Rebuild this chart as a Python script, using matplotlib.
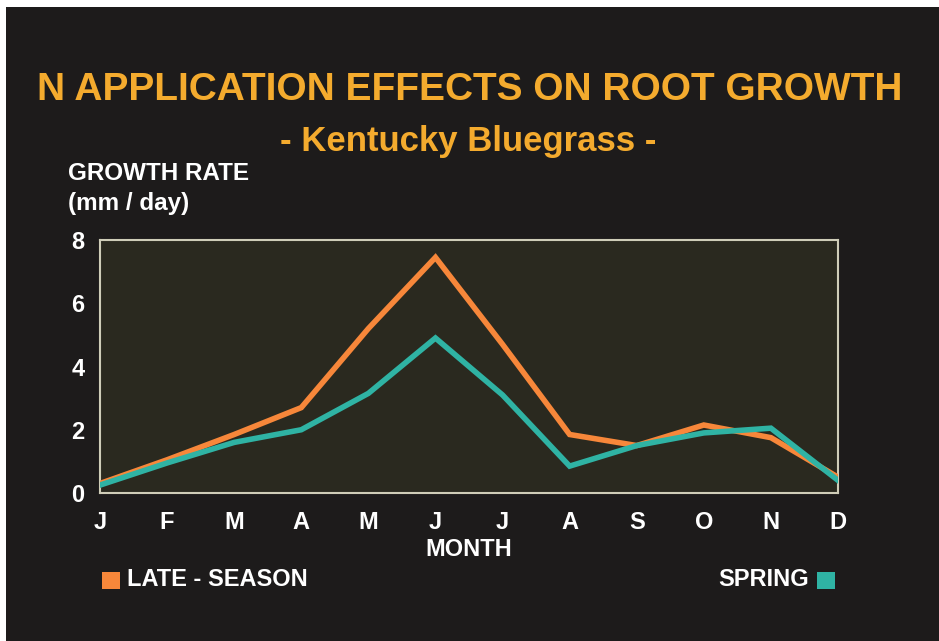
import matplotlib.pyplot as plt
from matplotlib.patches import Rectangle

months = ["J", "F", "M", "A", "M", "J", "J", "A", "S", "O", "N", "D"]
late_season = [0.3, 1.05, 1.85, 2.7, 5.2, 7.45, 4.7, 1.85, 1.5, 2.15, 1.75, 0.5]
spring = [0.25, 0.95, 1.6, 2.0, 3.15, 4.9, 3.1, 0.85, 1.5, 1.9, 2.05, 0.4]
yticks = [0, 2, 4, 6, 8]

BG = "#1d1b1b"
PLOT_BG = "#2a291f"
FRAME = "#cfcdb8"
TITLE_C = "#f4ab2e"
ORANGE = "#f7873a"
TEAL = "#2fb3a4"
FONT = "Liberation Sans"

W, H = 939, 641
fig = plt.figure(figsize=(W / 100, H / 100), dpi=100)
fig.patch.set_facecolor("white")
# dark slide area (thin white border top/left like the photographed slide)
fig.patches.append(Rectangle((6 / W, 0), 1, 1 - 7 / H, transform=fig.transFigure,
                             facecolor=BG, edgecolor="none", zorder=-10))

ax = fig.add_axes([100 / W, 1 - 493 / H, 738 / W, 253 / H])
ax.set_facecolor(PLOT_BG)
x = list(range(len(months)))
ax.plot(x, late_season, color=ORANGE, lw=4, solid_joinstyle="miter", zorder=3)
ax.plot(x, spring, color=TEAL, lw=4, solid_joinstyle="miter", zorder=3)

ax.set_xlim(0, 11)
ax.set_ylim(0, 8)
ax.set_xticks(x)
ax.set_xticklabels(months)
ax.set_yticks(yticks)
ax.tick_params(length=0, colors="white", labelsize=17)
ax.tick_params(axis="x", pad=13)
ax.tick_params(axis="y", pad=11)
for lab in ax.get_xticklabels() + ax.get_yticklabels():
    lab.set_fontfamily(FONT)
    lab.set_fontweight("bold")
for spine in ax.spines.values():
    spine.set_color(FRAME)
    spine.set_linewidth(1.5)

fig.text(0.5, 1 - 90 / H, "N APPLICATION EFFECTS ON ROOT GROWTH", color=TITLE_C,
         fontsize=28, fontweight="bold", family=FONT, ha="center", va="center")
fig.text(468 / W, 1 - 141 / H, "- Kentucky Bluegrass -", color=TITLE_C,
         fontsize=25, fontweight="bold", family=FONT, ha="center", va="center")
fig.text(68 / W, 1 - 174 / H, "GROWTH RATE", color="white", fontsize=17.5,
         fontweight="bold", family=FONT, ha="left", va="center")
fig.text(68 / W, 1 - 203 / H, "(mm / day)", color="white", fontsize=17.5,
         fontweight="bold", family=FONT, ha="left", va="center")
fig.text(469 / W, 1 - 550 / H, "MONTH", color="white", fontsize=17,
         fontweight="bold", family=FONT, ha="center", va="center")

# legend
fig.patches.append(Rectangle((102 / W, 1 - 589 / H), 18 / W, 17 / H,
                             transform=fig.transFigure, facecolor=ORANGE, edgecolor="none"))
fig.text(127 / W, 1 - 580 / H, "LATE - SEASON", color="white", fontsize=17,
         fontweight="bold", family=FONT, ha="left", va="center")
fig.patches.append(Rectangle((817 / W, 1 - 589 / H), 18 / W, 17 / H,
                             transform=fig.transFigure, facecolor=TEAL, edgecolor="none"))
fig.text(809 / W, 1 - 580 / H, "SPRING", color="white", fontsize=17,
         fontweight="bold", family=FONT, ha="right", va="center")

fig.savefig("out.png", dpi=100, facecolor=fig.get_facecolor())
